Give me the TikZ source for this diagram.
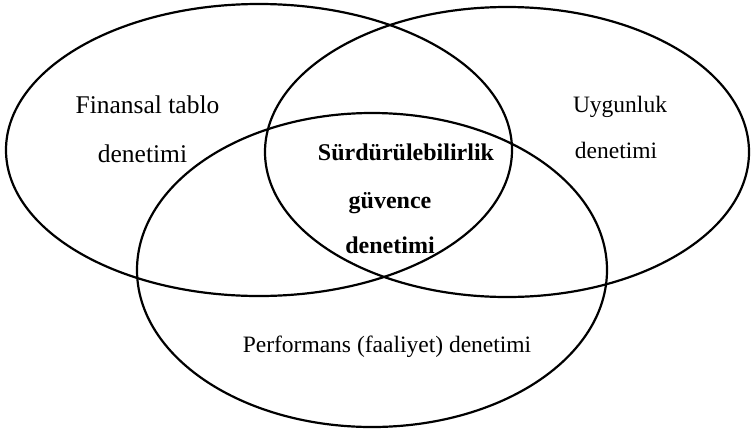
\documentclass[tikz,border=0pt]{standalone}
\usepackage{fontspec}
\setmainfont{Liberation Serif}
\begin{document}
\begin{tikzpicture}[x=1pt,y=-1pt,
  venn/.style={draw=black,line width=2.2pt},
  lbl/.style={inner sep=0pt,anchor=base,font=\fontsize{23.5}{28}\selectfont},
  lblbig/.style={inner sep=0pt,anchor=base,font=\fontsize{25.5}{31}\selectfont},
  lblbold/.style={inner sep=0pt,anchor=base,font=\fontsize{24}{28}\selectfont\bfseries}]
\useasboundingbox (0,0) rectangle (751,434);
% ellipses
\draw[venn] (259,150) ellipse [x radius=253, y radius=146];
\draw[venn] (507,152) ellipse [x radius=242, y radius=145];
\draw[venn] (372,270) ellipse [x radius=235, y radius=157];
% labels
\node[lblbig] (fin1) at (147.5,113) {Finansal tablo};
\node[lblbig] (fin2) at (142.5,162) {denetimi};
\node[lbl] (uyg1) at (620,112) {Uygunluk};
\node[lbl] (uyg2) at (616,158) {denetimi};
\node[lbl] (perf) at (387,352) {Performans (faaliyet) denetimi};
\node[lblbold] (sur1) at (406,160) {Sürdürülebilirlik};
\node[lblbold] (sur2) at (390,208) {güvence};
\node[lblbold] (sur3) at (390,253) {denetimi};
\end{tikzpicture}
\end{document}
